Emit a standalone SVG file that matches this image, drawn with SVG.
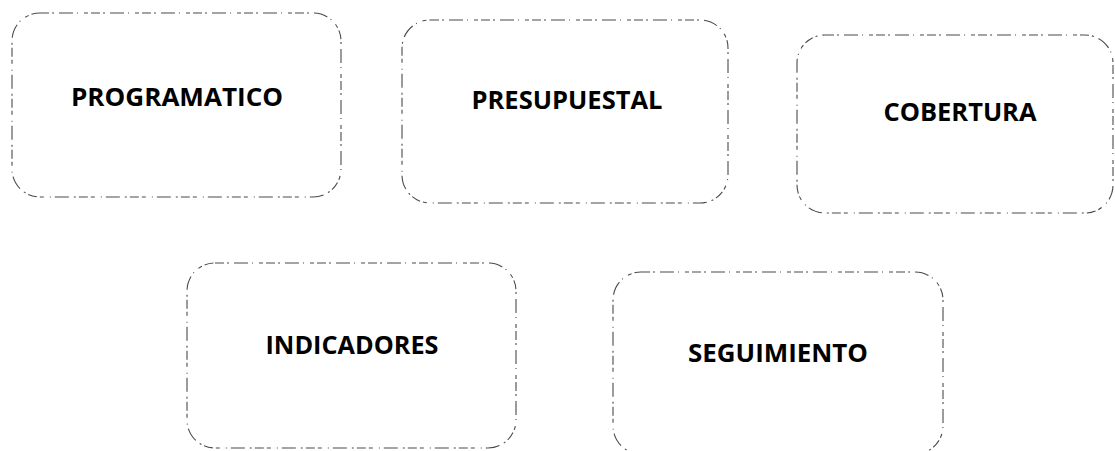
<svg xmlns="http://www.w3.org/2000/svg" width="1115" height="451" viewBox="0 0 1115 451">
<style>
.box{fill:none;stroke:#4a4a4a;stroke-width:1.1;stroke-dasharray:9 3 2 5 14 4 1 6 4 3}
.lbl{font-family:"Open Sans","Liberation Sans",sans-serif;font-weight:bold;font-size:25px;fill:#000;text-anchor:middle}
</style>
<rect width="1115" height="451" fill="#fff"/>
<g id="connectors"/>
<g id="programatico">
<rect class="box" x="12" y="13" width="329" height="184" rx="28"/>
<text class="lbl" x="177" y="106" textLength="212" lengthAdjust="spacingAndGlyphs">PROGRAMATICO</text>
</g>
<g id="presupuestal">
<rect class="box" x="402" y="20" width="326" height="183" rx="28"/>
<text class="lbl" x="567" y="109" textLength="191" lengthAdjust="spacingAndGlyphs">PRESUPUESTAL</text>
</g>
<g id="cobertura">
<rect class="box" x="797" y="35" width="316" height="178" rx="28"/>
<text class="lbl" x="960" y="121" textLength="153" lengthAdjust="spacingAndGlyphs">COBERTURA</text>
</g>
<g id="indicadores">
<rect class="box" x="187" y="263" width="329" height="185" rx="28"/>
<text class="lbl" x="352" y="354" textLength="173" lengthAdjust="spacingAndGlyphs">INDICADORES</text>
</g>
<g id="seguimiento">
<rect class="box" x="613" y="272" width="330" height="182" rx="28"/>
<text class="lbl" x="778" y="362" textLength="180" lengthAdjust="spacingAndGlyphs">SEGUIMIENTO</text>
</g>
</svg>
